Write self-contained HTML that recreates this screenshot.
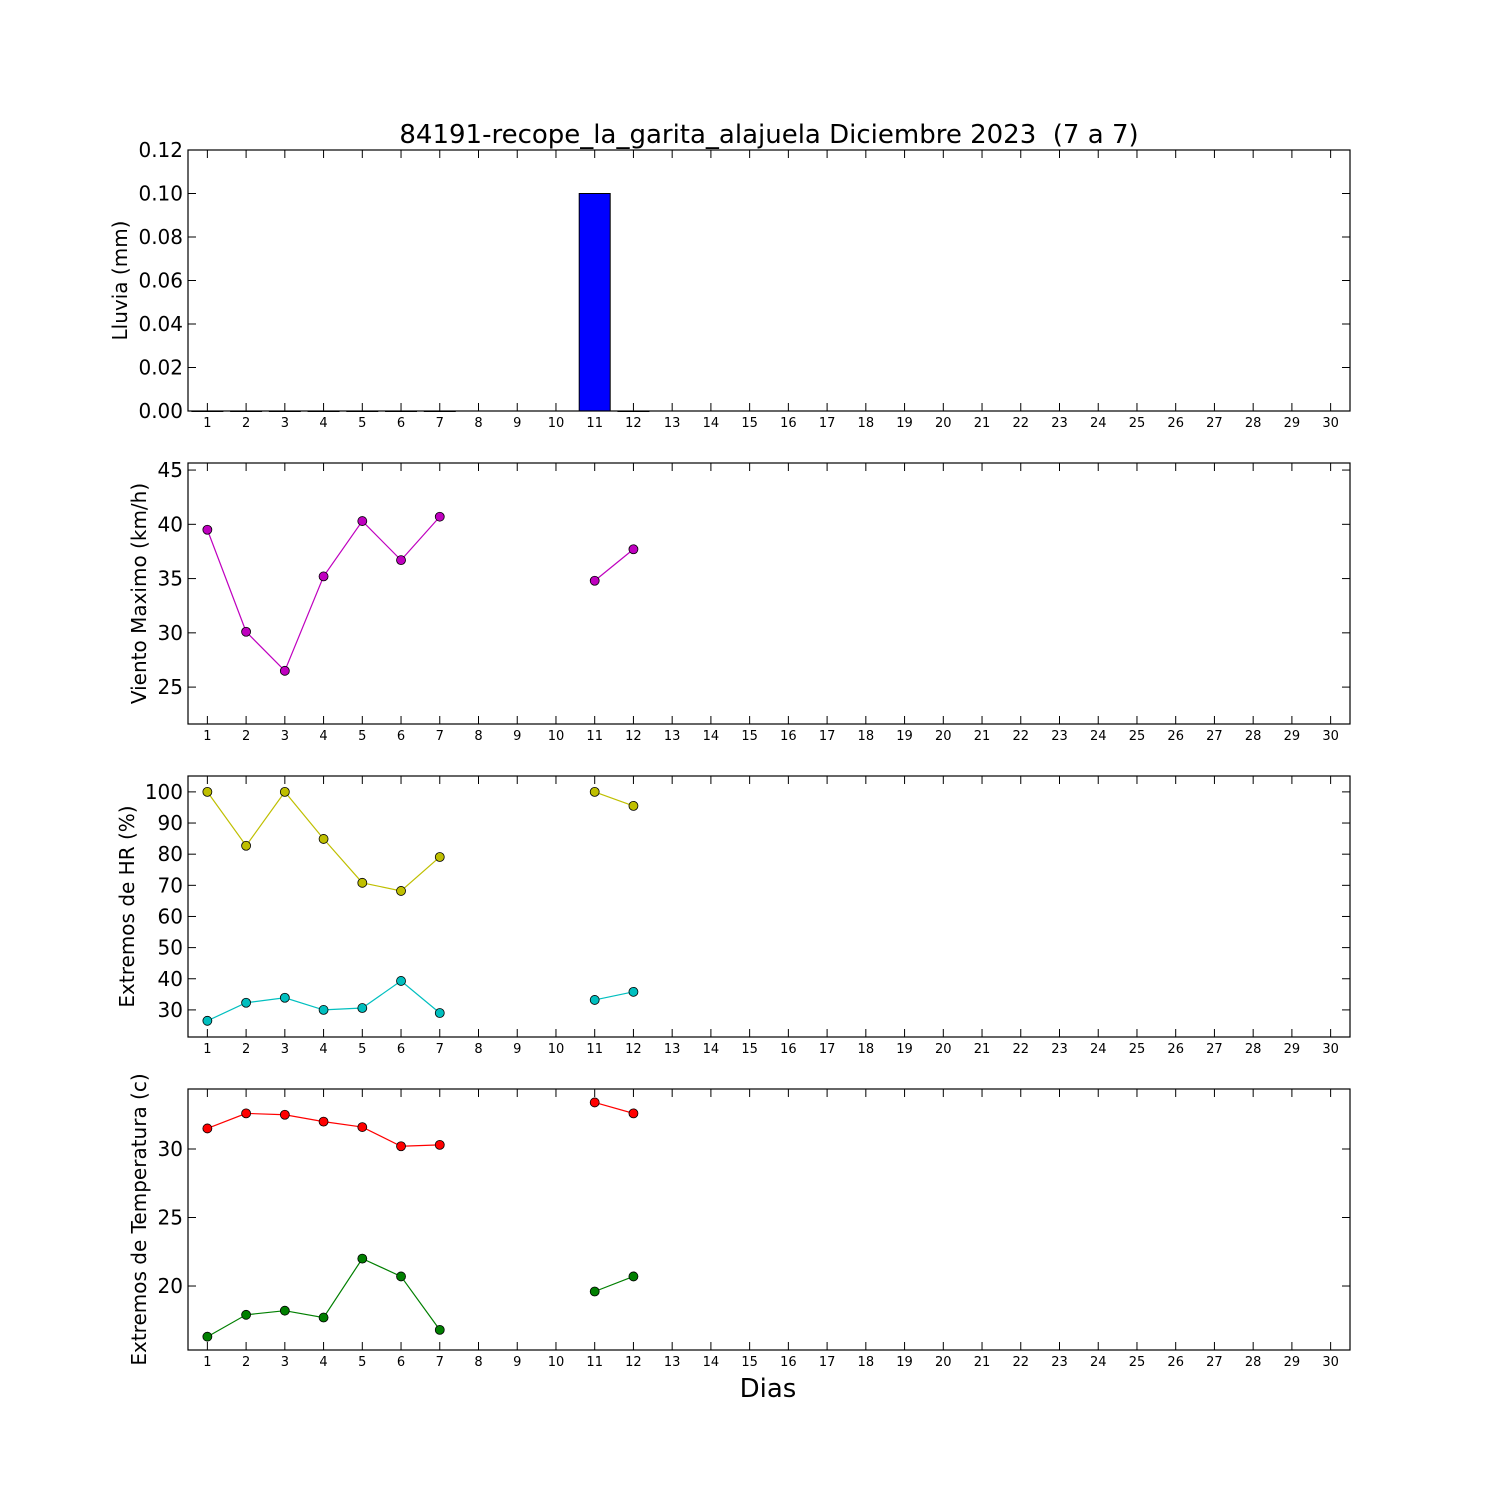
<!DOCTYPE html>
<html><head><meta charset="utf-8">
<style>html,body{margin:0;padding:0;background:#fff}svg{display:block;font-family:"DejaVu Sans","Liberation Sans",sans-serif}</style>
</head><body>
<svg id="chart" width="1500" height="1500" viewBox="0 0 1500 1500">
<rect width="1500" height="1500" fill="#fff"/>
<text x="769" y="143" font-size="26" text-anchor="middle" style="white-space:pre">84191-recope_la_garita_alajuela Diciembre 2023  (7 a 7)</text>
<text x="768" y="1397" font-size="26" text-anchor="middle">Dias</text>
</svg>
<script>
const days = Array.from({length:30},(_,i)=>i+1);
const rainDays = [1,2,3,4,5,6,7,11,12];
const rainVals = [0,0,0,0,0,0,0,0.1,0];
const windDays = [1,2,3,4,5,6,7,11,12];
const windVals = [39.5,30.1,26.5,35.2,40.3,36.7,40.7,34.8,37.7];
const hrDays = [1,2,3,4,5,6,7,11,12];
const hrMax = [100,82.7,100,84.9,70.8,68.2,79.1,100,95.5];
const hrMin = [26.5,32.3,33.9,30,30.6,39.3,29.0,33.2,35.8];
const tDays = [1,2,3,4,5,6,7,11,12];
const tMax = [31.5,32.6,32.5,32.0,31.6,30.2,30.3,33.4,32.6];
const tMin = [16.3,17.9,18.2,17.7,22.0,20.7,16.8,19.6,20.7];
const rainTicks = ["0.00","0.02","0.04","0.06","0.08","0.10","0.12"];
const windTicks = [25,30,35,40,45];
const hrTicks = [30,40,50,60,70,80,90,100];
const tTicks = [20,25,30];

const svg=document.getElementById('chart');
const NS='http://www.w3.org/2000/svg';
const L=188,R=1350;
const xs=d=>L+(d-0.5)*(R-L)/30;
function mk(tag,attrs,parent){const e=document.createElementNS(NS,tag);for(const k in attrs)e.setAttribute(k,attrs[k]);(parent||svg).appendChild(e);return e;}
function panel(name,top,bot,ymin,ymax,ticks,label,labelX){
  const g=mk('g',{});
  
  
  const ys=v=>bot-(v-ymin)/(ymax-ymin)*(bot-top);
  ticks.forEach(t=>{const v=parseFloat(t);const y=ys(v);
    mk('line',{x1:L,x2:L+8,y1:y,y2:y,stroke:'#000'},g);
    mk('line',{x1:R,x2:R-8,y1:y,y2:y,stroke:'#000'},g);
    const tx=mk('text',{x:L-5,y:y+7,'font-size':20,'text-anchor':'end'},g);tx.textContent=t;
    
    
  });
  days.forEach(d=>{const x=xs(d);
    mk('line',{x1:x,x2:x,y1:bot,y2:bot-8,stroke:'#000'},g);
    mk('line',{x1:x,x2:x,y1:top,y2:top+8,stroke:'#000'},g);
    const tx=mk('text',{x:x,y:bot+16,'font-size':13,'text-anchor':'middle'},g);tx.textContent=d;
    
    
  });
  const yl=mk('text',{x:0,y:0,'font-size':20,'text-anchor':'middle',transform:`translate(${labelX},${(top+bot)/2}) rotate(-90)`},g);yl.textContent=label;
  
  
  return {g,ys,top,bot};
}
function frame(p){const r=mk('rect',{x:L,y:p.top,width:R-L,height:p.bot-p.top,fill:'none',stroke:'#000','stroke-width':1.2},p.g);}
function series(p,ds,vs,color,name){
  let seg=[];const segs=[];
  ds.forEach((d,i)=>{if(i>0&&d-ds[i-1]>1){segs.push(seg);seg=[];}seg.push([xs(d),p.ys(vs[i])]);});segs.push(seg);
  segs.forEach(s=>{const pl=mk('polyline',{points:s.map(q=>q.join(',')).join(' '),fill:'none',stroke:color,'stroke-width':1.2},p.g);});
  ds.forEach((d,i)=>{const c=mk('circle',{cx:xs(d),cy:p.ys(vs[i]),r:4.5,fill:color,stroke:'#000','stroke-width':0.8},p.g);});
}
const p1=panel('rain',150,411,0,0.12,rainTicks,'Lluvia (mm)',127);
rainDays.forEach((d,i)=>{const y=p1.ys(rainVals[i]);const w=0.8*(R-L)/30;
  const b=mk('rect',{x:xs(d)-w/2,y:y,width:w,height:Math.max(p1.bot-y,0.5),fill:'#0000ff',stroke:'#000','stroke-width':1},p1.g);
  
  
});
frame(p1);
const p2=panel('wind',463,724,21.6,45.65,windTicks,'Viento Maximo (km/h)',146);
series(p2,windDays,windVals,'#bf00bf','wind-max');frame(p2);
const p3=panel('humidity',776,1037,21.3,105.1,hrTicks,'Extremos de HR (%)',134);
series(p3,hrDays,hrMax,'#bfbf00','hr-max');series(p3,hrDays,hrMin,'#00bfbf','hr-min');frame(p3);
const p4=panel('temperature',1089,1350,15.33,34.38,tTicks,'Extremos de Temperatura (c)',146);
series(p4,tDays,tMax,'#ff0000','temp-max');series(p4,tDays,tMin,'#007f00','temp-min');frame(p4);
</script>
</body></html>
